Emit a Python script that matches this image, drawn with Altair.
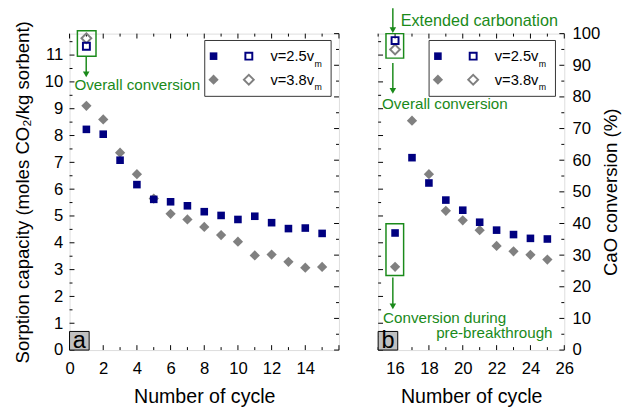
import altair as alt
import pandas as pd

FONT = "Liberation Sans"
BLUE = "#000080"
GREY = "#808080"
GREEN = "#1a8a1a"

# ---------------- data ----------------
cycles_a = list(range(1, 16))
cap_v25 = [8.23, 8.05, 7.08, 6.17, 5.62, 5.53, 5.38, 5.16, 5.02, 4.87, 4.99, 4.75, 4.53, 4.55, 4.35]
cap_v38 = [9.11, 8.60, 7.36, 6.56, 5.65, 5.08, 4.87, 4.59, 4.29, 4.04, 3.53, 3.56, 3.29, 3.07, 3.10]
overall_a_cycle = [1]
overall_a_v25 = [11.33]
overall_a_v38 = [11.63]

cycles_b = list(range(16, 26))
conv_v25 = [37.0, 60.8, 52.8, 47.4, 44.2, 40.4, 37.9, 36.5, 35.3, 35.1]
conv_v38 = [26.3, 72.5, 55.6, 44.0, 41.0, 37.9, 32.9, 31.2, 30.1, 28.6]
overall_b_cycle = [16]
overall_b_v25 = [97.8]
overall_b_v38 = [95.0]

legend_labels = ["v=2.5v", "v=3.8v"]

# tick positions (major / minor)
cap_major = list(range(0, 12))
cap_minor = [i + 0.5 for i in range(0, 12)]
conv_major = list(range(0, 101, 10))
conv_minor = list(range(5, 100, 10))
xa_major = list(range(0, 17, 2))
xa_minor = list(range(1, 16, 2))
xb_major = list(range(16, 27, 2))
xb_minor = list(range(15, 26, 2))
xa_labels = list(range(0, 15, 2))
xb_labels = list(range(16, 27, 2))

CAP_DOM = [0, 11.8]
CONV_DOM = [0, 100]
XA_DOM = [0, 16]
XB_DOM = [15, 26]

W_A, W_B, H = 275, 190, 323
MAJ, MIN = 5, 3


def sc(dom):
    return alt.Scale(domain=dom, nice=False, zero=False)


def label_axis(orient, values, pad, title, title_kw):
    kw = dict(orient=orient, values=values, ticks=False, domain=False, grid=False,
              labelFont=FONT, labelFontSize=17, labelColor="black", format="d",
              labelOverlap=False, labelFlush=False, labelPadding=pad,
              title=title, titleFont=FONT, titleFontWeight="normal", titleColor="black")
    kw.update(title_kw)
    return alt.Axis(**kw)


def frame_layer(x_dom, y_dom, x_axis, y_axis):
    df = pd.DataFrame({"fx": [x_dom[0]], "fy": [y_dom[0]]})
    return alt.Chart(df).mark_point(opacity=0).encode(
        x=alt.X("fx:Q", scale=sc(x_dom), axis=x_axis),
        y=alt.Y("fy:Q", scale=sc(y_dom), axis=y_axis),
    )


def ticks(vals, dom, side, length, W):
    m = alt.Chart(pd.DataFrame({"t": vals})).mark_rule(color="black", strokeWidth=1)
    if side in ("bottom", "top"):
        y0 = H if side == "bottom" else 0
        y1 = H - length if side == "bottom" else length
        return m.encode(x=alt.X("t:Q", scale=sc(dom), axis=None), y=alt.value(y0), y2=alt.value(y1))
    x0 = 0 if side == "left" else W
    x1 = length if side == "left" else W - length
    return m.encode(y=alt.Y("t:Q", scale=sc(dom), axis=None), x=alt.value(x0), x2=alt.value(x1))


def all_ticks(x_major, x_minor, x_dom, l_major, l_minor, l_dom, r_major, r_minor, r_dom, W):
    out = []
    for side in ("bottom", "top"):
        out += [ticks(x_major, x_dom, side, MAJ, W), ticks(x_minor, x_dom, side, MIN, W)]
    out += [ticks(l_major, l_dom, "left", MAJ, W), ticks(l_minor, l_dom, "left", MIN, W)]
    out += [ticks(r_major, r_dom, "right", MAJ, W), ticks(r_minor, r_dom, "right", MIN, W)]
    return out


def points(xs, ys, x_dom, y_dom, shape, color, filled, size):
    df = pd.DataFrame({"cycle": xs, "val": ys})
    if filled:
        mk = alt.Chart(df).mark_point(shape=shape, filled=True, fill=color, stroke=None, size=size, opacity=1)
    else:
        mk = alt.Chart(df).mark_point(shape=shape, filled=False, stroke=color, strokeWidth=2, size=size, opacity=1)
    return mk.encode(x=alt.X("cycle:Q", scale=sc(x_dom), axis=None),
                     y=alt.Y("val:Q", scale=sc(y_dom), axis=None))


def one():
    return alt.Chart(pd.DataFrame({"k": [0]}))


def txt(x, y, s, size, color, align="left", baseline="alphabetic"):
    return one().mark_text(font=FONT, fontSize=size, color=color, align=align, baseline=baseline).encode(
        x=alt.value(x), y=alt.value(y), text=alt.value(s))


def box(x1, x2, y1, y2, stroke, fill=None, sw=1.5):
    if fill is None:
        m = one().mark_rect(fillOpacity=0, stroke=stroke, strokeWidth=sw)
    else:
        m = one().mark_rect(fill=fill, stroke=stroke, strokeWidth=sw)
    return m.encode(x=alt.value(x1), x2=alt.value(x2), y=alt.value(y1), y2=alt.value(y2))


def arrow(x, y_from, y_tip):
    line = one().mark_rule(color=GREEN, strokeWidth=1.5).encode(
        x=alt.value(x), y=alt.value(y_from), y2=alt.value(y_tip - 5))
    head = one().mark_point(shape="triangle-down", filled=True, fill=GREEN, stroke=None, size=45, opacity=1).encode(
        x=alt.value(x), y=alt.value(y_tip - 3.5))
    return [line, head]


def sym(x, y, shape, color, filled, size):
    if filled:
        m = one().mark_point(shape=shape, filled=True, fill=color, stroke=None, size=size, opacity=1)
    else:
        m = one().mark_point(shape=shape, filled=False, stroke=color, strokeWidth=2, size=size, opacity=1)
    return m.encode(x=alt.value(x), y=alt.value(y))


def legend(left):
    layers = [box(left, left + 129, 7, 64, "#333333", sw=1)]
    rows = [("square", BLUE, 60, 50, 23, 28, legend_labels[0]),
            ("diamond", GREY, 110, 100, 47, 52, legend_labels[1])]
    for shape, col, fsz, osz, yc, yb, lab in rows:
        layers.append(sym(left + 9, yc, shape, col, True, fsz))
        layers.append(sym(left + 45, yc, shape, col, False, osz))
        layers.append(txt(left + 67, yb, lab, 15, "black"))
        layers.append(txt(left + 112, yb + 6, "m", 9, "black"))
    return layers


def panel_label(s):
    return [box(0, 20, 304, H, "black", fill="#c0c0c0", sw=1),
            txt(10, 321, s, 24, "black", align="center")]


# ---------------- panel a ----------------
a_layers = [
    frame_layer(XA_DOM, CAP_DOM,
                label_axis("bottom", xa_labels, 11, "Number of cycle",
                           dict(titleFontSize=20, titlePadding=11)),
                label_axis("left", cap_major, 7, "Sorption capacity (moles CO\u2082/kg sorbent)",
                           dict(titleFontSize=19, titlePadding=12))),
    *all_ticks(xa_major, xa_minor, XA_DOM, cap_major, cap_minor, CAP_DOM,
               conv_major, conv_minor, CONV_DOM, W_A),
    points(cycles_a, cap_v38, XA_DOM, CAP_DOM, "diamond", GREY, True, 110),
    points(cycles_a, cap_v25, XA_DOM, CAP_DOM, "square", BLUE, True, 60),
    points(overall_a_cycle, overall_a_v38, XA_DOM, CAP_DOM, "diamond", GREY, False, 100),
    points(overall_a_cycle, overall_a_v25, XA_DOM, CAP_DOM, "square", BLUE, False, 50),
    box(8, 27, -3, 23, GREEN),
    *arrow(17, 23, 45),
    txt(5, 58, "Overall conversion", 15.5, GREEN),
    *legend(138),
    *panel_label("a"),
]
panel_a = alt.layer(*a_layers).resolve_scale(y="independent").resolve_axis(
    x="independent", y="independent").properties(width=W_A, height=H)

# ---------------- panel b ----------------
b_layers = [
    frame_layer(XB_DOM, CONV_DOM,
                label_axis("bottom", xb_labels, 11, "Number of cycle",
                           dict(titleFontSize=20, titlePadding=11)),
                label_axis("right", conv_major, 8, "CaO conversion (%)",
                           dict(titleFontSize=19, titlePadding=2, titleAngle=270, titleBaseline="top"))),
    *all_ticks(xb_major, xb_minor, XB_DOM, cap_major, cap_minor, CAP_DOM,
               conv_major, conv_minor, CONV_DOM, W_B),
    points(cycles_b, conv_v38, XB_DOM, CONV_DOM, "diamond", GREY, True, 110),
    points(cycles_b, conv_v25, XB_DOM, CONV_DOM, "square", BLUE, True, 60),
    points(overall_b_cycle, overall_b_v38, XB_DOM, CONV_DOM, "diamond", GREY, False, 100),
    points(overall_b_cycle, overall_b_v25, XB_DOM, CONV_DOM, "square", BLUE, False, 50),
    *arrow(15, -26, 0),
    txt(23, -8, "Extended carbonation", 16.5, GREEN),
    box(8, 26, 0, 25, GREEN),
    *arrow(15, 30, 62),
    txt(4, 77, "Overall conversion", 15.5, GREEN),
    box(8, 26, 194, 247, GREEN),
    *arrow(15, 249, 282),
    txt(5, 295, "Conversion during", 15.5, GREEN),
    txt(178, 311, "pre-breakthrough", 15.5, GREEN, align="right"),
    *legend(52),
    *panel_label("b"),
]
panel_b = alt.layer(*b_layers).resolve_scale(y="independent").resolve_axis(
    x="independent", y="independent").properties(width=W_B, height=H)

chart = alt.hconcat(panel_a, panel_b, spacing=35).properties(
    padding={"left": 13, "top": 2, "right": 5, "bottom": 5}
).configure_view(stroke="black", strokeWidth=1.3).configure(background="white")

chart.save("out.html", embed_options={"renderer": "svg", "actions": False})
